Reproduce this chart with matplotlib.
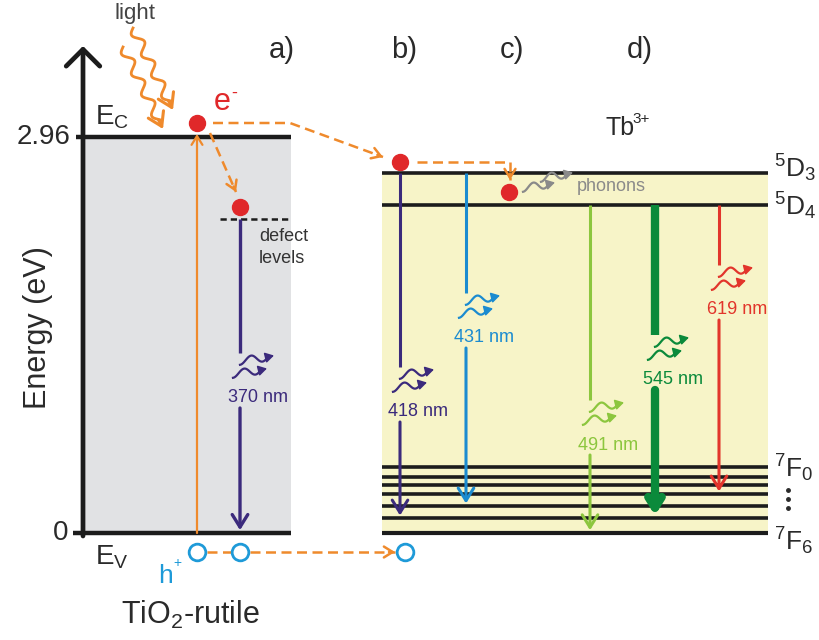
import numpy as np
import matplotlib
matplotlib.use('Agg')
import matplotlib.pyplot as plt
from matplotlib.patches import Rectangle

plt.rcParams['font.family'] = ['Liberation Sans', 'DejaVu Sans']
plt.rcParams['mathtext.fontset'] = 'custom'
plt.rcParams['mathtext.rm'] = 'Liberation Sans'
plt.rcParams['mathtext.it'] = 'Liberation Sans:italic'
plt.rcParams['mathtext.default'] = 'regular'

# ---------------- data ----------------
band_gap_eV = 2.96
defect_eV = 2.35
tio2_emission_nm = 370
tb_D_labels = ['$^5$D$_3$', '$^5$D$_4$']
tb_D_eV = [2.69, 2.45]
tb_F_labels = ['$^7$F$_0$', '$^7$F$_6$']
tb_F_eV = [0.49, 0.42, 0.36, 0.29, 0.20, 0.11, 0.00]   # 7F0 ... 7F6
tb_nm = [418, 431, 491, 545, 619]
tb_from = [0, 0, 1, 1, 1]     # index in tb_D_eV
tb_to = [5, 4, 6, 5, 3]       # index in tb_F_eV
panel_labels = ['a)', 'b)', 'c)', 'd)']
ytick_eV = [0, 2.96]
ytick_labels = ['0', '2.96']

# ---------------- layout / style ----------------
W, H = 819, 640
ROW0 = 533
KPX = band_gap_eV / (533 - 137)


def ev(r):
    return (ROW0 - np.asarray(r, float)) * KPX


BLK = '#1c1c1c'
OR = '#ef8a2c'
RED = '#e0282a'
HOLE = '#1e9ad8'
TXT = '#2a2a2a'
tb_colors = ['#3b2a7c', '#1b8bd0', '#8cc63e', '#0b8a3b', '#e2352b']
tb_lw = [2.2, 2.2, 2.2, 6.0, 2.2]
tb_x = [400, 466, 590, 655, 719]
tb_gap = [367, 293, 400, 335, 265]
panel_x = [282, 404, 512, 640]

fig = plt.figure(figsize=(W / 100, H / 100), dpi=100)
ax = fig.add_axes([0, 0, 1, 1])
ax.set_xlim(0, W)
ax.set_ylim(ev(H), ev(0))
ax.axis('off')

TI_L, TI_R = 83, 291
TB_L, TB_R = 382, 768

# boxes
ax.add_patch(Rectangle((TI_L, 0), TI_R - TI_L, band_gap_eV, fc='#e1e2e4', ec='none', zorder=0))
ax.add_patch(Rectangle((TB_L, tb_F_eV[-1]), TB_R - TB_L, tb_D_eV[0] - tb_F_eV[-1],
                       fc='#f7f4c8', ec='none', zorder=0))

# energy axis with arrow
ax.annotate('', xy=(TI_L, ev(46)), xytext=(TI_L, ev(536)),
            arrowprops=dict(arrowstyle='->,head_length=0.55,head_width=0.55', lw=3.4,
                            color=BLK, mutation_scale=22, shrinkA=0, shrinkB=0), zorder=4)
ax.plot([76, TI_R], [ytick_eV[1]] * 2, color=BLK, lw=3.2, solid_capstyle='butt', zorder=3)
ax.plot([73, TI_R], [ytick_eV[0]] * 2, color=BLK, lw=3.2, solid_capstyle='butt', zorder=3)
ax.text(70, ytick_eV[1], ytick_labels[1], ha='right', va='center', fontsize=20, color=TXT)
ax.text(68, ytick_eV[0], ytick_labels[0], ha='right', va='center', fontsize=20, color=TXT)
ax.text(38, ev(328), 'Energy (eV)', rotation=90, ha='center', va='center', fontsize=22, color=TXT)

# defect level
ax.plot([220, TI_R], [defect_eV] * 2, color=BLK, lw=1.8, ls=(0, (2.5, 1.6)), zorder=3)
ax.text(259, ev(237), 'defect', ha='left', va='center', fontsize=13, color='#333333')
ax.text(259, ev(259), 'levels', ha='left', va='center', fontsize=13, color='#333333')

# Tb levels
for e in tb_D_eV:
    ax.plot([TB_L, TB_R], [e, e], color=BLK, lw=2.6, solid_capstyle='butt', zorder=2)
for i, e in enumerate(tb_F_eV):
    ax.plot([TB_L, TB_R], [e, e], color=BLK, lw=3.0 if i == len(tb_F_eV) - 1 else 2.6,
            solid_capstyle='butt', zorder=2)


def arrow_head(x_end, r_end, ux, uy, color, lw=1.8, ms=14, hl=0.45, hw=0.28, back=6, z=6):
    ax.annotate('', xy=(x_end, ev(r_end)), xytext=(x_end - ux * back, ev(r_end - uy * back)),
                arrowprops=dict(arrowstyle=f'->,head_length={hl},head_width={hw}', lw=lw,
                                color=color, mutation_scale=ms, shrinkA=0, shrinkB=0), zorder=z)


def dashed(xs, rs, arrow=True):
    ax.plot(xs, ev(rs), color=OR, lw=1.8, ls=(0, (4, 2.2)), zorder=5)
    if arrow:
        dx, dy = xs[-1] - xs[-2], rs[-1] - rs[-2]
        L = np.hypot(dx, dy)
        arrow_head(xs[-1], rs[-1], dx / L, dy / L, OR)


def wavy(p0, p1, color, amp=4.5, wl=23.0, lw=2.0):
    p0 = np.array(p0, float)
    p1 = np.array(p1, float)
    d = p1 - p0
    L = np.hypot(*d)
    u = d / L
    n = np.array([-u[1], u[0]])
    t = np.linspace(0, L - 9, 200)
    pts = p0[None, :] + t[:, None] * u[None, :] + (amp * np.sin(2 * np.pi * t / wl))[:, None] * n[None, :]
    ax.plot(pts[:, 0], ev(pts[:, 1]), color=color, lw=lw, zorder=5)
    arrow_head(p1[0], p1[1], u[0], u[1], color, lw=2.2, ms=16, hl=0.6, hw=0.38, back=10)


def squiggle(x0, r0, length, color, amp=3.8, lw=1.6):
    t = np.linspace(0, 1, 80)
    xs = x0 + t * length
    rs = r0 + amp * np.cos(2 * np.pi * 1.25 * t) - 4 * t
    ax.plot(xs, ev(rs), color=color, lw=lw, zorder=5)
    ax.annotate('', xy=(xs[-1] + 6, ev(rs[-1] - 1.5)), xytext=(xs[-1], ev(rs[-1])),
                arrowprops=dict(arrowstyle='-|>,head_length=0.5,head_width=0.3', lw=1.2,
                                color=color, mutation_scale=10, shrinkA=0, shrinkB=0), zorder=5)


def photon(xc, rc, color):
    squiggle(xc - 6, rc - 6, 28, color)
    squiggle(xc - 13, rc + 7, 28, color)


def transition(x, e_top, e_bot, gap_top, color, lw, label, hl=0.45, hw=0.28, ms=20):
    ax.plot([x, x], [e_top, ev(gap_top)], color=color, lw=lw, solid_capstyle='butt', zorder=3)
    ax.annotate('', xy=(x, e_bot), xytext=(x, ev(gap_top + 55)),
                arrowprops=dict(arrowstyle=f'->,head_length={hl},head_width={hw}', lw=lw,
                                color=color, mutation_scale=ms, shrinkA=0, shrinkB=2), zorder=3)
    photon(x + 6, gap_top + 14, color)
    ax.text(x + 18, ev(gap_top + 45), label, ha='center', va='center', fontsize=13, color=color)


def sup_text(x, r, base, sup, fs, color, dx, dr, sfs, va='center'):
    ax.text(x, ev(r), base, ha='left', va=va, fontsize=fs, color=color)
    ax.text(x + dx, ev(r - dr), sup, ha='left', va=va, fontsize=sfs, color=color)


# TiO2 emission (370 nm)
transition(240, defect_eV, 0, 353, tb_colors[0], 2.4, f'{tio2_emission_nm} nm')

# Tb transitions
for i, nm in enumerate(tb_nm):
    big = tb_lw[i] > 4
    transition(tb_x[i], tb_D_eV[tb_from[i]], tb_F_eV[tb_to[i]], tb_gap[i], tb_colors[i], tb_lw[i],
               f'{nm} nm', hl=0.35 if big else 0.45, hw=0.22 if big else 0.28, ms=22 if big else 20)

# excitation (orange vertical)
ax.annotate('', xy=(197, ev(134)), xytext=(197, 0),
            arrowprops=dict(arrowstyle='->,head_length=0.45,head_width=0.28', lw=1.6, color=OR,
                            mutation_scale=14, shrinkA=0, shrinkB=0), zorder=4)

# light
wavy((133, 28), (173, 110), OR)
wavy((123, 47), (163, 129), OR)
ax.text(135, ev(14), 'light', ha='center', va='center', fontsize=16, color='#444444')

# electrons
ax.plot([197, 240], [ev(123), ev(207)], ls='none', marker='o', ms=11.5, color=RED, zorder=7)
ax.plot([400, 509], [ev(162), ev(192)], ls='none', marker='o', ms=11.5, color=RED, zorder=7)
sup_text(214, 102, 'e', '-', 22, RED, 17, 9, 13)

# electron transfer paths
dashed([210, 236], [133, 192])
dashed([213, 290, 383], [123, 123, 157])
dashed([417, 510, 510], [162, 162, 180])

# holes
ax.plot([197, 240, 405], [ev(552)] * 3, ls='none', marker='o', ms=12, mfc='none',
        mec=HOLE, mew=2.0, zorder=7)
dashed([207, 231], [552, 552], arrow=False)
dashed([250, 395], [552, 552])
sup_text(158, 583, 'h', '+', 19, HOLE, 15, 16, 10, va='baseline')

# phonons
squiggle(523, 188, 26, '#8a8a8a')
squiggle(541, 178, 26, '#8a8a8a')
ax.text(577, ev(187), 'phonons', ha='left', va='center', fontsize=13, color='#8a8a8a')

# band labels
ax.text(95, ev(117), 'E$_C$', ha='left', va='center', fontsize=20, color=TXT)
ax.text(95, ev(557), 'E$_V$', ha='left', va='center', fontsize=20, color=TXT)
ax.text(191, ev(624), 'TiO$_2$-rutile', ha='center', va='baseline', fontsize=22, color=TXT)
sup_text(605, 128, 'Tb', '3+', 18, TXT, 27, 9, 11)

for lab, x in zip(panel_labels, panel_x):
    ax.text(x, ev(50), lab, ha='center', va='center', fontsize=21, color=TXT)

# Tb level labels
ax.text(774, ev(168), tb_D_labels[0], ha='left', va='center', fontsize=19, color=TXT)
ax.text(774, ev(206), tb_D_labels[1], ha='left', va='center', fontsize=19, color=TXT)
ax.text(774, ev(468), tb_F_labels[0], ha='left', va='center', fontsize=19, color=TXT)
ax.text(774, ev(541), tb_F_labels[1], ha='left', va='center', fontsize=19, color=TXT)
ax.plot([788] * 3, ev([490, 499, 508]), ls='none', marker='o', ms=2.5, color=TXT)

fig.savefig('out.png', dpi=100)
